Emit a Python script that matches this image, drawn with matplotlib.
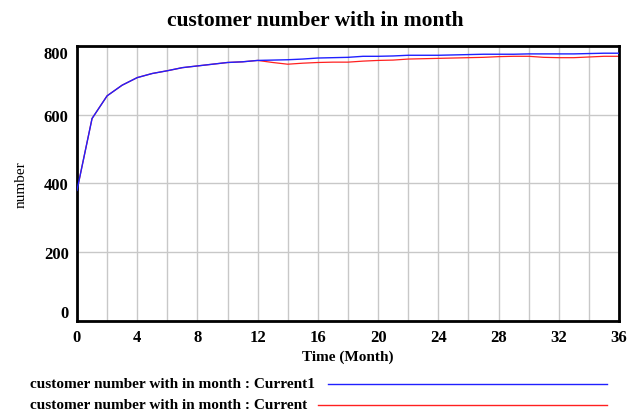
import numpy as np
import matplotlib.pyplot as plt
from matplotlib.lines import Line2D

# データ (月ごと)
months = np.arange(0, 37)
current1 = [380, 589, 655, 686, 708, 720, 728, 737, 742, 747, 752, 754, 758,
            759, 760, 762, 765, 766, 767, 770, 770, 771, 773, 773, 773, 774,
            775, 776, 776, 776, 777, 777, 777, 777, 778, 779, 779]
current = [380, 589, 655, 686, 708, 720, 728, 737, 742, 747, 752, 754, 758,
           752, 747, 750, 752, 753, 753, 756, 758, 759, 762, 763, 764, 765,
           766, 767, 769, 770, 770, 767, 766, 766, 768, 770, 770]
xticks = list(range(0, 37, 4))
yticks = [0, 200, 400, 600, 800]
title = "customer number with in month"
legend_labels = ["customer number with in month : Current1",
                 "customer number with in month : Current"]

plt.rcParams['font.family'] = ['Liberation Serif', 'DejaVu Serif']

fig = plt.figure(figsize=(6.3, 4.14), dpi=100)
ax = fig.add_axes([0.1222, 0.2222, 0.8603, 0.6643])

ax.plot(months, current, color='#ff2020', lw=0.9, zorder=2)
ax.plot(months, current1, color='#2020ff', lw=1.0, zorder=3)

ax.set_xlim(0, 36)
ax.set_ylim(0, 800)
ax.set_xticks(range(0, 37, 2))
ax.set_xticklabels([str(m) if m in xticks else "" for m in range(0, 37, 2)],
                   fontsize=12, fontweight='bold')
ax.set_yticks(yticks)
ax.set_yticklabels([str(v) for v in yticks], fontsize=12, fontweight='bold')
# Vensim風にラベルを内側へずらす
ylabs = ax.get_yticklabels()
ylabs[0].set_va('bottom')
ylabs[-1].set_va('top')
ax.tick_params(axis='both', length=0, pad=6)
ax.grid(True, color='#c8c8c8', lw=1.0)
for s in ax.spines.values():
    s.set_linewidth(2)
    s.set_color('black')

ax.set_xlabel("Time (Month)", fontsize=11, fontweight='bold', labelpad=3)
ax.set_ylabel("number", fontsize=11, labelpad=12)
fig.text(0.5, 0.95, title, ha='center', va='center', fontsize=15.5, fontweight='bold')

# 凡例
for i, (lab, c, x0) in enumerate(zip(legend_labels, ['#2020ff', '#ff2020'], [328, 318])):
    yy = 1 - (385 + 21 * i) / 414
    fig.text(30 / 630, yy, lab, ha='left', va='center', fontsize=11, fontweight='bold')
    fig.add_artist(Line2D([x0 / 630, 607 / 630], [yy, yy], color=c, lw=1.0))

plt.savefig("out.png")
